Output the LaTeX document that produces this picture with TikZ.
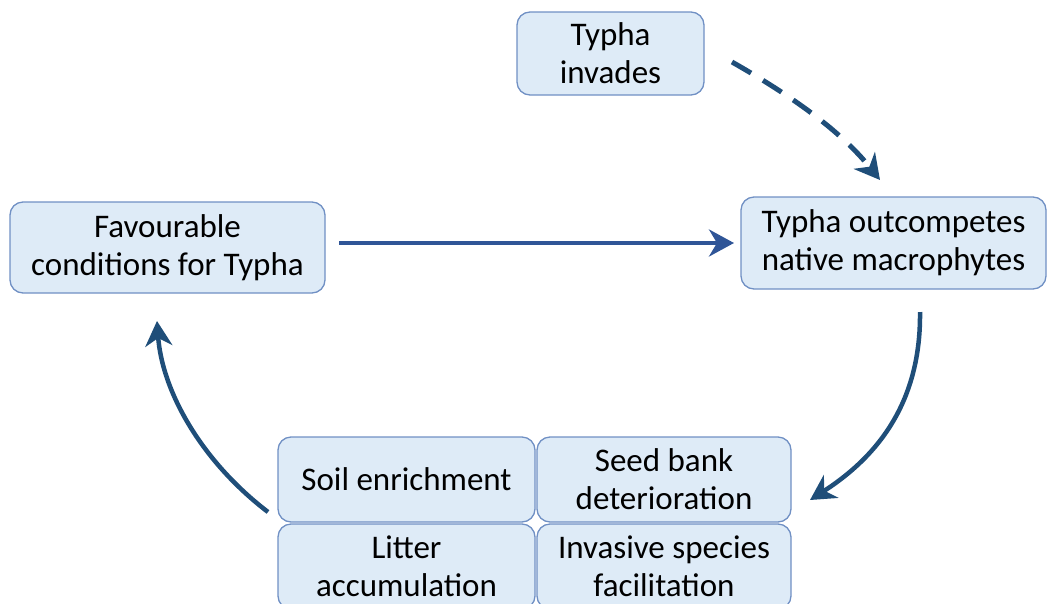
\documentclass[tikz,border=0pt]{standalone}
\usepackage{fontspec}
\setmainfont{Carlito}
\usetikzlibrary{arrows.meta}
\definecolor{boxfill}{HTML}{DEEBF7}
\definecolor{boxline}{HTML}{7090C4}
\definecolor{arrblue}{HTML}{2F5597}
\definecolor{arrdark}{HTML}{1F4E79}
\tikzset{
  box/.style={draw=boxline, line width=1.3pt, fill=boxfill, rounded corners=13pt,
    align=center, inner sep=0pt, font=\fontsize{33}{38}\selectfont, text=black},
  conn/.style={line width=4.5pt, -{Stealth[length=25pt,width=27pt,inset=8pt]}},
}
\begin{document}
\begin{tikzpicture}[x=1pt,y=-1pt]
\useasboundingbox (0,0) rectangle (1047,603);
\begin{scope}
\clip (0,0) rectangle (1047,603);
\node[box, minimum width=187pt, minimum height=83pt] (inv) at (610.5,53.5) {Typha\\invades};
\node[box, minimum width=315pt, minimum height=91pt] (fav) at (167.5,247.5) {Favourable\\conditions for Typha};
\node[box, minimum width=305pt, minimum height=92pt] (out) at (893.5,243) {Typha outcompetes\\native macrophytes};
\node[box, minimum width=257pt, minimum height=85pt] (soil) at (406.5,479.5) {Soil enrichment};
\node[box, minimum width=254pt, minimum height=85pt] (seed) at (664,479.5) {Seed bank\\deterioration};
\node[box, minimum width=257pt, minimum height=85pt] (lit) at (406.5,566.5) {Litter\\accumulation};
\node[box, minimum width=254pt, minimum height=85pt] (invsp) at (664,566.5) {Invasive species\\facilitation};
\end{scope}
\coordinate (h1) at (339,243);
\coordinate (h2) at (734,243);
\draw[conn, line width=4pt, draw=arrblue] (h1) -- (h2);
\coordinate (d1) at (732,62);
\coordinate (d2) at (880,180);
\draw[conn, line width=5pt, draw=arrdark, dash pattern=on 22pt off 14pt] (d1) .. controls (790,95) and (840,130) .. (d2);
\coordinate (r1) at (920,312);
\coordinate (r2) at (810,500);
\draw[conn, draw=arrdark] (r1) .. controls (921,400) and (880,455) .. (r2);
\coordinate (l1) at (268,512);
\coordinate (l2) at (157,321);
\draw[conn, draw=arrdark] (l1) .. controls (200,460) and (162,390) .. (l2);
\end{tikzpicture}
\end{document}
